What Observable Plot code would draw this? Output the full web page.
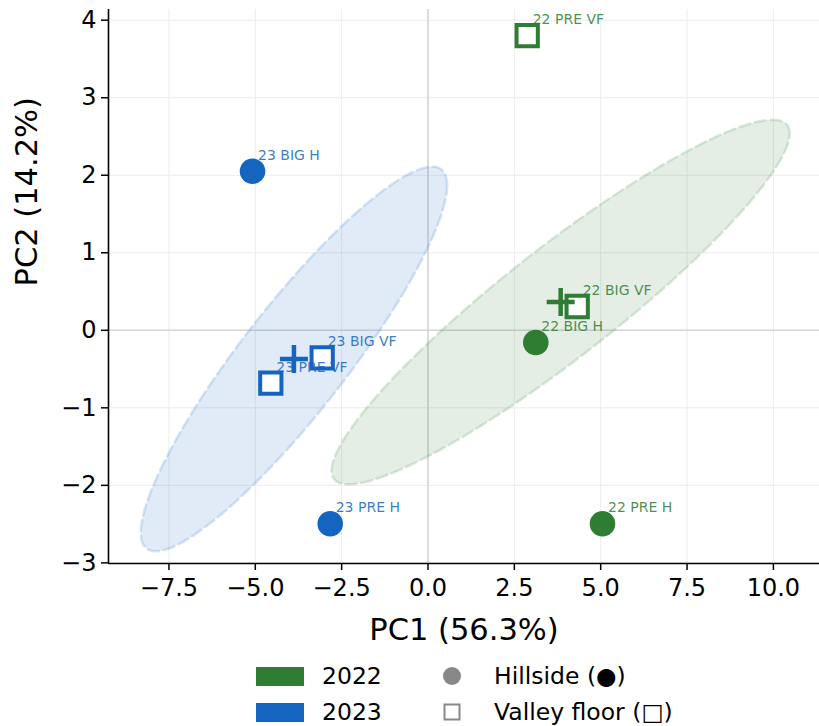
<!DOCTYPE html>
<html>
<head>
<meta charset="utf-8">
<script src="https://cdn.jsdelivr.net/npm/d3@7"></script>
<script src="https://cdn.jsdelivr.net/npm/@observablehq/plot@0.6"></script>
<style>
  html, body { margin: 0; padding: 0; background: white; }
  #wrap { width: 819px; font-family: "DejaVu Sans", sans-serif; color: black; }
  #legend { position: relative; width: 819px; height: 76px; }
  #legend .sw { position: absolute; width: 48px; height: 19px; }
  #legend .lt { position: absolute; font-size: 23.5px; line-height: 24px; white-space: nowrap; }
  #legend svg { position: absolute; overflow: visible; }
</style>
</head>
<body>
<div id="wrap"></div>
<script>
// ---- data ----
const sampleLabels = ["22 PRE VF", "22 BIG VF", "22 BIG H", "22 PRE H", "23 BIG H", "23 BIG VF", "23 PRE VF", "23 PRE H"];
const sampleYears  = ["2022", "2022", "2022", "2022", "2023", "2023", "2023", "2023"];
const sampleSites  = ["Valley floor", "Valley floor", "Hillside", "Hillside", "Hillside", "Valley floor", "Valley floor", "Hillside"];
const pc1Values    = [2.872, 4.320, 3.121, 5.052, -5.080, -3.063, -4.551, -2.831];
const pc2Values    = [3.802, 0.307, -0.157, -2.496, 2.052, -0.355, -0.682, -2.496];

const years      = ["2022", "2023"];
const yearColors = ["#2e7d32", "#1565c0"];
// confidence-ellipse shape per year (PC1 variance, PC2 variance, covariance; ellipse scale)
const ellipseVarPC1 = [44.00, 19.66];
const ellipseVarPC2 = [5.530, 6.154];
const ellipseCov    = [14.425, 9.924];

const siteNames   = ["Hillside", "Valley floor"];
const siteLegend  = ["Hillside (●)", "Valley floor (□)"];

const xTicks = [-7.5, -5.0, -2.5, 0.0, 2.5, 5.0, 7.5, 10.0];
const yTicks = [-3, -2, -1, 0, 1, 2, 3, 4];
const xLabel = "PC1 (56.3%)";
const yLabel = "PC2 (14.2%)";

// ---- build tables ----
const samples = sampleLabels.map((label, i) => ({
  label, year: sampleYears[i], site: sampleSites[i], pc1: pc1Values[i], pc2: pc2Values[i]
}));
const centroids = years.map(y => {
  const s = samples.filter(d => d.year === y);
  return { year: y, pc1: d3.mean(s, d => d.pc1), pc2: d3.mean(s, d => d.pc2) };
});
const ellipsePts = [];
years.forEach((y, k) => {
  const c = centroids[k];
  const l11 = Math.sqrt(ellipseVarPC1[k]);
  const l21 = ellipseCov[k] / l11;
  const l22 = Math.sqrt(ellipseVarPC2[k] - l21 * l21);
  for (let a = 0; a < 360; a += 2) {
    const t = a * Math.PI / 180, u = Math.cos(t), v = Math.sin(t);
    ellipsePts.push({ year: y, pc1: c.pc1 + l11 * u, pc2: c.pc2 + l21 * u + l22 * v });
  }
});

const xDomain = [-9.25, 11.335];
const yDomain = [-3.008, 4.138];

const plusSymbol = {
  draw(context, size) {
    const h = Math.sqrt(size / Math.PI);
    context.moveTo(-h, 0); context.lineTo(h, 0);
    context.moveTo(0, -h); context.lineTo(0, h);
  }
};

const chart = Plot.plot({
  width: 819,
  height: 650,
  marginLeft: 108,
  marginRight: 0,
  marginTop: 9,
  marginBottom: 87,
  style: { fontFamily: "DejaVu Sans", fontSize: "24px", background: "white", color: "black", overflow: "visible" },
  x: { domain: xDomain, label: null },
  y: { domain: yDomain, label: null },
  color: { domain: years, range: yearColors },
  marks: [
    Plot.gridX(xTicks, { stroke: "#ececec", strokeOpacity: 1, strokeWidth: 1 }),
    Plot.gridY(yTicks, { stroke: "#ececec", strokeOpacity: 1, strokeWidth: 1 }),
    Plot.ruleX([0], { stroke: "#d6d6d6", strokeWidth: 1.6 }),
    Plot.ruleY([0], { stroke: "#d6d6d6", strokeWidth: 1.6 }),
    Plot.line(ellipsePts, {
      x: "pc1", y: "pc2", z: "year", curve: "linear-closed",
      fill: "year", fillOpacity: 0.13,
      stroke: "year", strokeOpacity: 0.16, strokeWidth: 2.6, strokeDasharray: "11,5"
    }),
    Plot.dot(samples.filter(d => d.site === siteNames[0]), {
      x: "pc1", y: "pc2", fill: "year", r: 12.8, symbol: "circle"
    }),
    Plot.dot(samples.filter(d => d.site === siteNames[1]), {
      x: "pc1", y: "pc2", stroke: "year", fill: "white", r: 12, symbol: "square", strokeWidth: 4
    }),
    Plot.text(samples, {
      x: "pc1", y: "pc2", text: "label", fill: "year", fillOpacity: 0.85,
      textAnchor: "start", lineAnchor: "middle", dx: 5.5, dy: -16, fontSize: 14
    }),
    Plot.dot(centroids, {
      x: "pc1", y: "pc2", stroke: "year", symbol: plusSymbol, r: 14, strokeWidth: 4.5
    }),
    Plot.axisX({ ticks: xTicks, tickFormat: d3.format(".1f"), tickSize: 7, tickPadding: 8, strokeWidth: 1.5, label: null, fontSize: 24 }),
    Plot.axisY({ ticks: yTicks, tickFormat: d3.format("d"), tickSize: 7, tickPadding: 5, strokeWidth: 1.5, label: null, fontSize: 24 }),
    Plot.ruleY([yDomain[0]], { stroke: "black", strokeWidth: 1.6 }),
    Plot.ruleX([xDomain[0]], { stroke: "black", strokeWidth: 1.6 }),
    Plot.text([xLabel], { text: d => d, frameAnchor: "bottom", lineAnchor: "middle", dy: 67, fontSize: 30.5 }),
    Plot.text([yLabel], { text: d => d, frameAnchor: "left", lineAnchor: "middle", rotate: -90, dx: -81, fontSize: 30.5 })
  ]
});

const wrap = document.getElementById("wrap");
wrap.appendChild(chart);

// ---- legend (HTML, below the SVG) ----
const legend = document.createElement("div");
legend.id = "legend";
const rowCenters = [26, 62];
years.forEach((y, i) => {
  const sw = document.createElement("div");
  sw.className = "sw";
  sw.style.left = "256px";
  sw.style.top = (rowCenters[i] - 9.5) + "px";
  sw.style.background = yearColors[i];
  legend.appendChild(sw);
  const t = document.createElement("div");
  t.className = "lt";
  t.style.left = "322px";
  t.style.top = (rowCenters[i] - 12) + "px";
  t.textContent = y;
  legend.appendChild(t);
});
siteNames.forEach((s, i) => {
  const ns = "http://www.w3.org/2000/svg";
  const svg = document.createElementNS(ns, "svg");
  svg.setAttribute("width", 24);
  svg.setAttribute("height", 24);
  svg.style.left = (452 - 12) + "px";
  svg.style.top = (rowCenters[i] - 12) + "px";
  if (i === 0) {
    const c = document.createElementNS(ns, "circle");
    c.setAttribute("cx", 12); c.setAttribute("cy", 12); c.setAttribute("r", 9);
    c.setAttribute("fill", "#888888");
    svg.appendChild(c);
  } else {
    const r = document.createElementNS(ns, "rect");
    r.setAttribute("x", 4.5); r.setAttribute("y", 4.5); r.setAttribute("width", 15); r.setAttribute("height", 15);
    r.setAttribute("fill", "white"); r.setAttribute("stroke", "#888888"); r.setAttribute("stroke-width", 2);
    svg.appendChild(r);
  }
  legend.appendChild(svg);
  const t = document.createElement("div");
  t.className = "lt";
  t.style.left = "494px";
  t.style.top = (rowCenters[i] - 12) + "px";
  t.textContent = siteLegend[i];
  legend.appendChild(t);
});
wrap.appendChild(legend);
</script>
</body>
</html>
